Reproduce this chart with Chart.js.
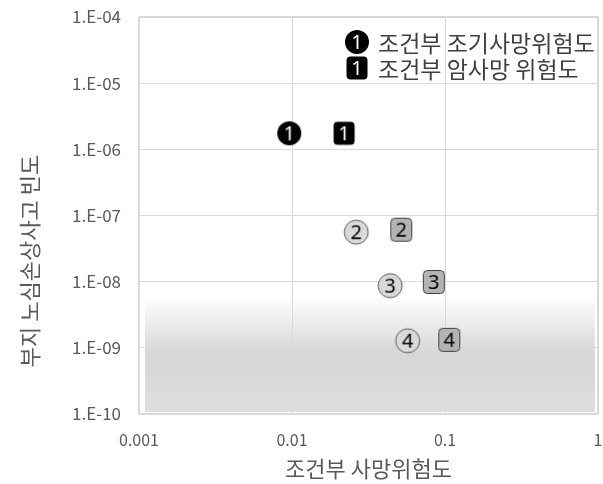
<!DOCTYPE html>
<html>
<head>
<meta charset="utf-8">
<script src="https://cdn.jsdelivr.net/npm/chart.js@4"></script>
<style>
	html, body { margin: 0; padding: 0; background: #fff; }
	#wrap { width: 603px; height: 484px; }
</style>
</head>
<body>
<div id="wrap"><canvas id="riesgo"></canvas></div>
<script>
// data
var numeros = ['1', '2', '3', '4'];
var tempranoX = [0.0096, 0.0263, 0.0438, 0.057];
var tempranoY = [1.75e-6, 5.6e-8, 8.7e-9, 1.28e-9];
var cancerX = [0.0219, 0.0518, 0.0845, 0.1067];
var cancerY = [1.75e-6, 6.1e-8, 9.9e-9, 1.32e-9];
var xTicks = [0.001, 0.01, 0.1, 1];
var yTicks = [1e-10, 1e-9, 1e-8, 1e-7, 1e-6, 1e-5, 1e-4];
var serieNombres = ['조건부 조기사망위험도', '조건부 암사망 위험도'];

var fuente = '"Noto Sans CJK KR", "Noto Sans", sans-serif';
var gris = '#595959';

function marcador(forma, num, lleno) {
	var c = document.createElement('canvas');
	c.width = 28; c.height = 28;
	var ctx = c.getContext('2d');
	ctx.beginPath();
	if (forma == 'circulo') {
		ctx.arc(14, 14, 12, 0, Math.PI * 2);
	} else {
		ctx.roundRect(3.5, 2.5, 21, 23, 4);
	}
	ctx.fillStyle = lleno ? '#000' : (forma == 'circulo' ? '#d9d9d9' : '#b3b3b3');
	ctx.fill();
	if (!lleno) {
		ctx.lineWidth = 1;
		ctx.strokeStyle = forma == 'circulo' ? '#595959' : '#404040';
		ctx.stroke();
	}
	ctx.fillStyle = lleno ? '#fff' : '#000';
	ctx.font = '20px "Noto Sans", sans-serif';
	ctx.textAlign = 'center';
	ctx.textBaseline = 'middle';
	ctx.fillText(num, 14, 15);
	return c;
}

var circulos = numeros.map((n, i) => marcador('circulo', n, i == 0));
var cuadros = numeros.map((n, i) => marcador('cuadro', n, i == 0));

const fondo = {
	id: 'fondo',
	beforeDraw(chart) {
		const a = chart.chartArea;
		const ctx = chart.ctx;
		const top = a.bottom - 118, bottom = a.bottom - 2;
		const g = ctx.createLinearGradient(0, top, 0, bottom);
		g.addColorStop(0, '#ffffff');
		g.addColorStop(0.5, '#d6d6d6');
		g.addColorStop(1, '#dedede');
		ctx.save();
		ctx.fillStyle = g;
		ctx.fillRect(a.left + 6, top, a.right - a.left - 9, bottom - top);
		ctx.restore();
	},
	afterDraw(chart) {
		const ctx = chart.ctx;
		ctx.save();
		// y axis title
		ctx.translate(30, 261);
		ctx.rotate(-Math.PI / 2);
		ctx.font = '22px ' + fuente;
		ctx.fillStyle = gris;
		ctx.textAlign = 'center';
		ctx.textBaseline = 'middle';
		ctx.fillText('부지 노심손상사고 빈도', 0, 0);
		ctx.restore();
		// legend
		ctx.save();
		ctx.font = '23px ' + fuente;
		ctx.fillStyle = '#404040';
		ctx.textBaseline = 'middle';
		ctx.drawImage(circulos[0], 357 - 14, 42 - 14);
		ctx.fillText(serieNombres[0], 378, 43);
		ctx.drawImage(cuadros[0], 357 - 14, 68 - 14);
		ctx.fillText(serieNombres[1], 378, 69);
		ctx.restore();
	}
};

function ancho(ctx) {
	return (ctx.index == 0 || ctx.index == ctx.scale.ticks.length - 1) ? 2 : 1;
}

new Chart(document.getElementById('riesgo'), {
	type: 'scatter',
	data: {
		datasets: [{
			label: serieNombres[0],
			data: tempranoX.map((x, i) => ({ x: x, y: tempranoY[i] })),
			pointStyle: circulos,
			pointRadius: 12,
		}, {
			label: serieNombres[1],
			data: cancerX.map((x, i) => ({ x: x, y: cancerY[i] })),
			pointStyle: cuadros,
			pointRadius: 12,
		}]
	},
	options: {
		responsive: true,
		maintainAspectRatio: false,
		animation: false,
		layout: { autoPadding: false, padding: { left: 0, top: 17, right: 5, bottom: 0 } },
		plugins: {
			legend: { display: false },
			tooltip: { enabled: false }
		},
		scales: {
			x: {
				type: 'logarithmic',
				min: 0.001,
				max: 1,
				afterBuildTicks: s => { s.ticks = xTicks.map(v => ({ value: v })); },
				afterFit: s => { s.height = 70; s.paddingLeft = 0; s.paddingRight = 0; },
				grid: { color: '#d9d9d9', lineWidth: ancho, drawTicks: false },
				border: { display: false },
				ticks: {
					padding: 16,
					color: gris,
					font: { size: 16, family: fuente },
					maxRotation: 0,
					callback: v => String(v)
				},
				title: {
					display: true,
					text: '조건부 사망위험도',
					color: gris,
					font: { size: 22, family: fuente },
					padding: { top: 0, bottom: 2 }
				}
			},
			y: {
				type: 'logarithmic',
				min: 1e-10,
				max: 1e-4,
				afterBuildTicks: s => { s.ticks = yTicks.map(v => ({ value: v })); },
				afterFit: s => { s.width = 139; s.paddingTop = 0; s.paddingBottom = 0; },
				grid: { color: '#d9d9d9', lineWidth: ancho, drawTicks: false },
				border: { display: false },
				ticks: {
					padding: 18,
					color: gris,
					font: { size: 17, family: fuente },
					callback: v => {
						var e = Math.round(Math.log10(v));
						return '1.E' + (e < 0 ? '-' : '+') + String(Math.abs(e)).padStart(2, '0');
					}
				}
			}
		}
	},
	plugins: [fondo]
});
</script>
</body>
</html>
